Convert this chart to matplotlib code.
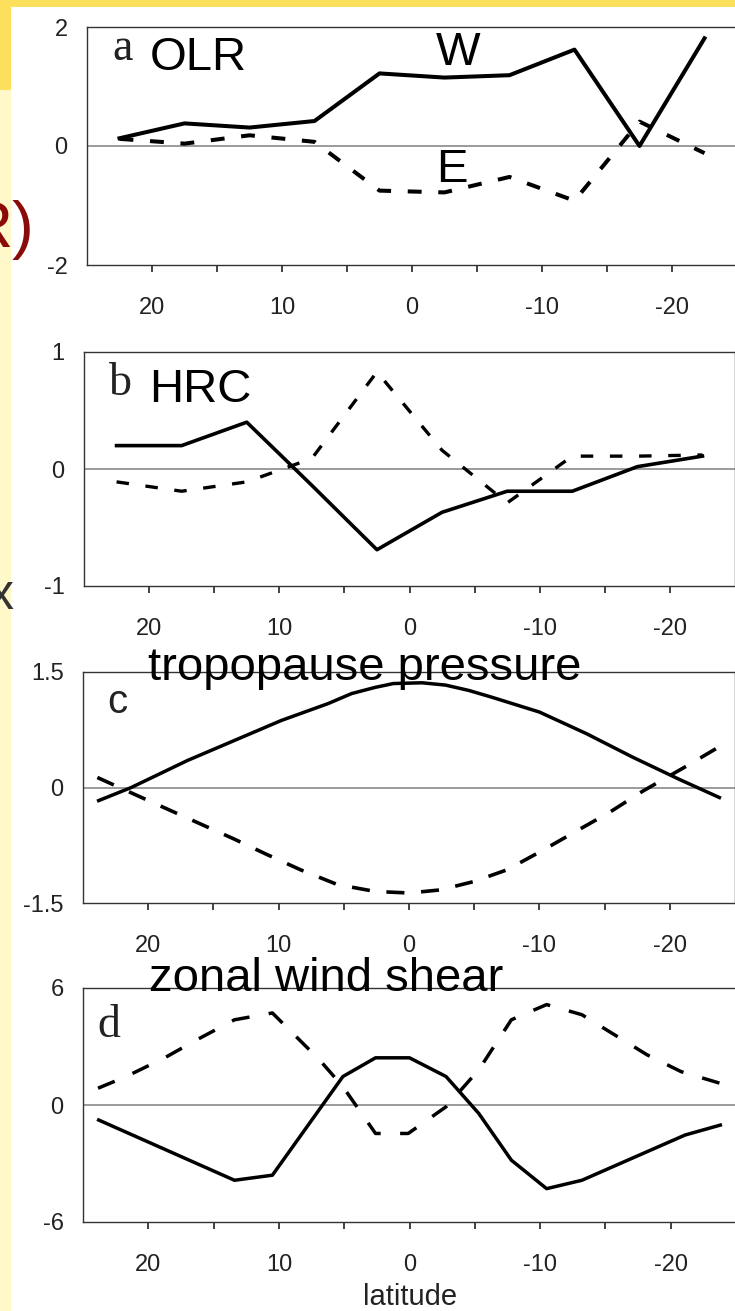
import matplotlib
matplotlib.use('Agg')
import matplotlib.pyplot as plt
from matplotlib.patches import Rectangle

# ---------------- data ----------------
lat5 = [22.5, 17.5, 12.5, 7.5, 2.5, -2.5, -7.5, -12.5, -17.5, -22.5]
olr_w = [0.13, 0.38, 0.31, 0.42, 1.22, 1.15, 1.19, 1.62, 0.0, 1.81]
olr_e = [0.12, 0.04, 0.18, 0.07, -0.75, -0.78, -0.52, -0.92, 0.41, -0.12]

hrc_w = [0.20, 0.20, 0.40, -0.14, -0.69, -0.37, -0.19, -0.19, 0.02, 0.11]
hrc_e = [-0.11, -0.19, -0.11, 0.09, 0.83, 0.16, -0.29, 0.11, 0.11, 0.12]

trop_lat_w = [23.8, 21.3, 17.0, 13.4, 9.8, 6.2, 4.4, 2.6, 1.2, -1.0, -2.8,
              -4.6, -6.4, -10.0, -13.6, -17.2, -20.8, -23.8]
trop_w = [-0.17, 0.0, 0.35, 0.61, 0.87, 1.09, 1.22, 1.30, 1.35, 1.36, 1.33,
          1.26, 1.17, 0.98, 0.70, 0.39, 0.10, -0.13]
trop_lat_e = [23.9, 20.9, 18.8, 16.3, 13.4, 10.9, 8.3, 5.5, 2.6, 0.0, -2.4,
              -5.0, -7.5, -10.0, -12.9, -15.4, -17.9, -21.2, -23.7]
trop_e = [0.13, -0.10, -0.26, -0.45, -0.67, -0.87, -1.07, -1.26, -1.35, -1.37,
          -1.33, -1.22, -1.07, -0.84, -0.56, -0.32, -0.05, 0.27, 0.52]

shear_lat_w = [23.8, 13.4, 10.5, 5.1, 2.6, 0.0, -2.8, -5.3, -7.8, -10.5,
               -13.2, -21.1, -23.8]
shear_w = [-0.77, -3.86, -3.60, 1.46, 2.42, 2.42, 1.46, -0.43, -2.83, -4.29,
           -3.86, -1.54, -1.03]
shear_lat_e = [23.85, 21.7, 18.8, 16.3, 13.4, 10.5, 8.7, 6.9, 5.1, 2.6, 0.1,
               -2.8, -5.3, -7.8, -10.5, -13.2, -15.7, -18.2, -20.8, -23.8]
shear_e = [0.86, 1.46, 2.40, 3.34, 4.37, 4.72, 3.52, 2.32, 0.94, -1.46, -1.46,
           -0.09, 1.80, 4.37, 5.15, 4.63, 3.60, 2.57, 1.71, 1.11]

xtick_major = [20, 10, 0, -10, -20]
xtick_labels = ['20', '10', '0', '-10', '-20']
xtick_minor = [15, 5, -5, -15]

panel_yticks = [[-2, 0, 2], [-1, 0, 1], [-1.5, 0, 1.5], [-6, 0, 6]]
panel_ylabels = [['-2', '0', '2'], ['-1', '0', '1'], ['-1.5', '0', '1.5'], ['-6', '0', '6']]
panel_titles = ['OLR', 'HRC', 'tropopause pressure', 'zonal wind shear']
panel_letters = ['a', 'b', 'c', 'd']

# ---------------- figure ----------------
W, H = 735, 1311
plt.rcParams['lines.scale_dashes'] = False
fig = plt.figure(figsize=(W / 100, H / 100), dpi=100)
fig.patch.set_facecolor('white')


def rect(l, t, r, b):
    return [l / W, 1 - b / H, (r - l) / W, (b - t) / H]


def fx(x):
    return x / W


def fy(y):
    return 1 - y / H


# slide background pieces
fig.add_artist(Rectangle((0, 0), fx(11), 1, transform=fig.transFigure,
                         facecolor='#FFF8C8', edgecolor='none', zorder=0))
fig.add_artist(Rectangle((0, fy(90)), fx(11), 90 / H, transform=fig.transFigure,
                         facecolor='#FCE05C', edgecolor='none', zorder=0))
fig.add_artist(Rectangle((0, fy(7)), 1, 7 / H, transform=fig.transFigure,
                         facecolor='#FCE05C', edgecolor='none', zorder=0))

panels = [
    dict(r=rect(87, 27, 737, 265), ylim=(-2, 2),
         w=(lat5, olr_w), e=(lat5, olr_e), wlw=2.9, elw=2.9, dash=(10, 12)),
    dict(r=rect(84, 352, 735, 586), ylim=(-1, 1),
         w=(lat5, hrc_w), e=(lat5, hrc_e), wlw=2.6, elw=2.4, dash=(9, 12)),
    dict(r=rect(83, 672, 735, 903), ylim=(-1.5, 1.5),
         w=(trop_lat_w, trop_w), e=(trop_lat_e, trop_e), wlw=2.5, elw=2.6, dash=(13, 12)),
    dict(r=rect(83, 988, 736, 1222), ylim=(-6, 6),
         w=(shear_lat_w, shear_w), e=(shear_lat_e, shear_e), wlw=2.5, elw=2.5, dash=(13, 14)),
]

for i, p in enumerate(panels):
    ax = fig.add_axes(p['r'])
    ax.set_xlim(25, -25)
    ax.set_ylim(*p['ylim'])
    ax.axhline(0, color='#8a8a8a', lw=1.2, zorder=1)
    ax.plot(p['w'][0], p['w'][1], color='black', lw=p['wlw'], zorder=3,
            solid_joinstyle='round')
    ax.plot(p['e'][0], p['e'][1], color='black', lw=p['elw'], zorder=3,
            linestyle=(0, p['dash']), dash_capstyle='butt')
    ax.set_xticks(xtick_major)
    ax.set_xticklabels(xtick_labels)
    ax.set_xticks(xtick_minor, minor=True)
    ax.set_yticks(panel_yticks[i])
    ax.set_yticklabels(panel_ylabels[i])
    ax.tick_params(axis='x', which='both', direction='out', length=5, width=1.2,
                   pad=18, labelsize=17, colors='#222222')
    ax.tick_params(axis='y', length=0, pad=14, labelsize=17, colors='#222222')
    for lab in ax.get_xticklabels() + ax.get_yticklabels():
        lab.set_family('Liberation Sans')
    for s in ax.spines.values():
        s.set_color('#333333')
        s.set_linewidth(1.0)

# panel titles (overlay text)
title_pos = [(150, 70), (149, 402), (148, 680), (149, 991)]
for (x, y), t in zip(title_pos, panel_titles):
    fig.text(fx(x), fy(y), t, fontsize=34, family='Liberation Sans',
             ha='left', va='baseline', color='black', zorder=10)
fig.text(fx(436), fy(65), 'W', fontsize=34, family='Liberation Sans',
         ha='left', va='baseline', color='black', zorder=10)
fig.text(fx(436), fy(182), 'E', fontsize=34, family='Liberation Sans',
         ha='left', va='baseline', color='black', zorder=10)

# panel letters
letter_pos = [(112, 60), (109, 395), (107, 713), (97, 1037)]
for (x, y), t in zip(letter_pos, panel_letters):
    if t == 'c':
        fig.text(fx(x), fy(y), t, fontsize=29, family='Liberation Sans',
                 ha='left', va='baseline', color='#222222')
    else:
        fig.text(fx(x), fy(y), t, fontsize=33, family='Liberation Serif',
                 ha='left', va='baseline', color='#222222')

fig.text(fx(410), fy(1305), 'latitude', fontsize=21, family='Liberation Sans',
         ha='center', va='baseline', color='#222222')

# slide remnants on the left edge (clipped in the reference too)
fig.text(fx(34), fy(247), 'R)', fontsize=47, family='Liberation Sans',
         ha='right', va='baseline', color='#8B0A0A', zorder=10)
fig.text(fx(1), fy(609), 'x', fontsize=36, family='Liberation Sans',
         ha='center', va='baseline', color='#333333', zorder=10)

fig.savefig('out.png', dpi=100, facecolor='white')
